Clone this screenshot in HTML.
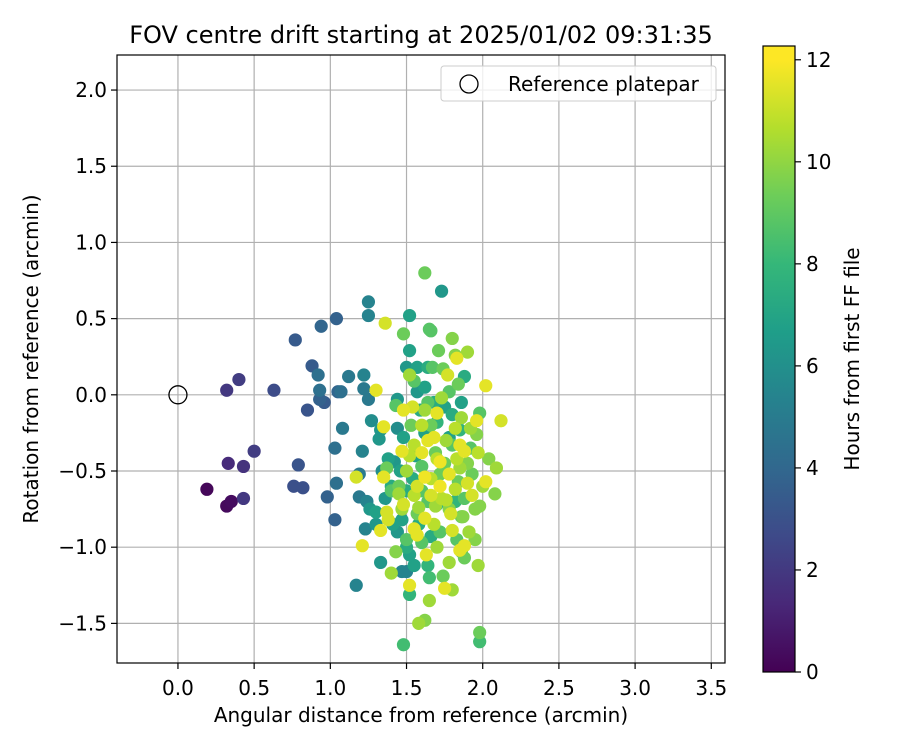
<!DOCTYPE html>
<html><head><meta charset="utf-8"><style>
body{margin:0;background:#fff;}
svg text{font-family:"DejaVu Sans","Liberation Sans",sans-serif;fill:#000;}
</style></head><body>
<svg id="chart" width="900" height="750" xmlns="http://www.w3.org/2000/svg">
<rect width="900" height="750" fill="#fff"/>
<g id="grid"></g>
<g id="points"></g>
<rect x="117" y="55" width="608" height="608" fill="none" stroke="#000" stroke-width="1.2"/>
<g id="ticks"></g>
<text x="421" y="43" font-size="24" text-anchor="middle">FOV centre drift starting at 2025/01/02 09:31:35</text>
<text x="421" y="722" font-size="20" text-anchor="middle">Angular distance from reference (arcmin)</text>
<text transform="translate(38,359) rotate(-90)" font-size="20" text-anchor="middle">Rotation from reference (arcmin)</text>
<g>
<rect x="441" y="66" width="275" height="35" rx="3" fill="#fff" fill-opacity="0.8" stroke="#ccc"/>
<circle cx="469" cy="84" r="9" fill="none" stroke="#000" stroke-width="1.3"/>
<text x="508" y="91" font-size="20">Reference platepar</text>
</g>
<circle id="refpt" r="9" fill="none" stroke="#000" stroke-width="1.3"/>
<defs><linearGradient id="vir" x1="0" y1="1" x2="0" y2="0"></linearGradient></defs>
<rect x="763" y="46" width="32" height="626" fill="url(#vir)" stroke="#000" stroke-width="1.2"/>
<g id="cbticks"></g>
<text transform="translate(859,359) rotate(-90)" font-size="20" text-anchor="middle">Hours from first FF file</text>
</svg>
<script>
const xTicks=[0.0,0.5,1.0,1.5,2.0,2.5,3.0,3.5];
const yTicks=[-1.5,-1.0,-0.5,0.0,0.5,1.0,1.5,2.0];
const cbTicks=[0,2,4,6,8,10,12];
const refX=0,refY=0;
const pts=[
[0.19,-0.62,0.2],[0.32,-0.73,0.3],[0.35,-0.70,0.4],[0.33,-0.45,1.5],[0.43,-0.47,1.8],[0.43,-0.68,2],[0.32,0.03,2],[0.40,0.10,2.2],[0.50,-0.37,2.2],[0.63,0.03,2.8],[0.76,-0.60,3],[0.79,-0.46,3.2],[0.82,-0.61,3],[0.77,0.36,3.5],[0.85,-0.10,3.2],[0.88,0.19,3.5],[0.93,-0.03,3.8],[0.96,-0.05,3.5],[0.98,-0.67,3.8],[1.03,-0.82,3.8],[0.94,0.45,4],[1.04,0.50,3.8],[0.92,0.13,4.5],[0.93,0.03,4.5],[1.05,0.02,4],[1.07,0.02,4.5],[1.03,-0.35,4.5],[1.04,-0.58,4.5],[1.08,-0.22,5],[1.12,0.12,5],[1.17,-1.25,5.5],[1.19,-0.52,5],[1.19,-0.67,5],[1.21,-0.37,5.5],[1.22,0.13,5.5],[1.22,0.04,5],[1.23,-0.88,5.5],[1.25,0.61,5.5],[1.25,0.52,5.5],[1.24,-0.70,5.5],[1.27,-0.17,6],[1.25,-0.03,5],[1.33,-1.10,6.5],[1.33,-0.23,6.5],[1.30,-0.85,6.5],[1.32,-0.29,6.5],
[1.52,0.52,7],[1.73,0.68,6.5],[1.52,0.29,7],[1.50,0.18,6.5],[1.57,0.18,7],[1.57,0.02,6.5],[1.62,0.05,7],[1.64,0.18,7.5],[1.44,-0.22,6],[1.44,-0.03,6.5],[1.48,-0.28,7],[1.38,-0.42,7],[1.40,-0.60,7.5],[1.42,-0.44,6.5],[1.46,-0.50,7],[1.50,-0.63,7.5],[1.47,-0.82,7],[1.50,-1.00,7.5],[1.52,-1.05,7],[1.50,-1.16,5.5],[1.55,-1.12,7],[1.52,-1.31,8],[1.56,-0.40,7],[1.59,-0.10,7.5],[1.62,-0.25,7],[1.68,-0.05,7.5],[1.70,-0.18,8],[1.75,-0.08,7],[1.80,-0.13,7.5],[1.86,-0.05,7],[1.88,0.12,7.5],[1.85,-0.23,8],[1.58,-0.85,7.5],[1.64,-1.12,8],[1.66,-0.93,7.5],[1.70,-0.72,8],[1.82,-0.70,8],[1.86,-1.03,7.5],[1.78,-0.28,7],[1.54,-0.55,7.5],[1.44,-0.90,6.5],[1.41,-0.85,7],[1.34,-0.50,6],[1.36,-0.68,6.5],[1.26,-0.75,6.5],[1.30,-0.77,7],[1.47,-1.16,5.5],[1.66,0.42,9],
[1.62,0.80,9.5],[1.65,0.43,9],[1.71,0.29,9.5],[1.80,0.37,10],[1.82,0.26,10],[1.55,0.09,9],[1.64,-0.05,9],[1.74,0.17,9.5],[1.78,0.02,9],[1.84,0.07,9.5],[1.60,-0.47,9],[1.66,-0.20,9.5],[1.72,-0.90,9],[1.75,-0.45,9.5],[1.78,-0.75,10],[1.84,-0.57,9.5],[1.88,-0.68,9],[1.90,-0.45,10],[1.93,-0.52,9.5],[1.96,-0.26,10],[1.98,-0.12,9],[1.98,-1.56,9.5],[1.98,-1.62,8.5],[1.88,-1.07,9.5],[1.83,-0.95,9],[1.74,-1.19,9.5],[1.65,-1.20,8.5],[1.60,-0.97,9],[1.57,-0.78,9.5],[1.50,-0.95,9],[1.45,-0.60,9.5],[1.40,-0.63,9],[1.37,-0.48,9.5],[1.43,-0.07,9],[1.48,0.40,9.5],[1.60,-0.63,9],[1.69,-0.38,9.5],[1.80,-0.33,9],[1.86,-0.80,9.5],[1.92,-0.35,9],[1.72,-0.52,9.5],[1.64,-0.70,9],[1.53,-0.20,9.5],[1.48,-1.64,8.5],[1.67,0.18,9],
[1.40,-1.17,10.5],[1.45,-0.65,10.5],[1.43,-1.03,10],[1.52,0.13,10.5],[1.55,-0.66,11],[1.58,-0.74,10.5],[1.62,-1.48,10],[1.58,-1.50,10.5],[1.65,-1.35,10.5],[1.70,-0.42,11],[1.73,-0.02,10.5],[1.76,-0.69,11],[1.80,-1.28,10.5],[1.82,-0.22,11],[1.85,-0.48,10.5],[1.87,-0.80,10],[1.90,0.28,10.5],[1.92,-0.22,10.5],[1.95,-0.75,10],[1.97,-0.38,11],[1.98,-0.73,10],[2.00,-0.60,10.5],[2.04,-0.42,10],[2.09,-0.48,10.5],[2.08,-0.65,10],[1.97,-1.12,10.5],[1.78,-1.10,10.5],[1.68,-0.85,11],[1.60,-0.20,11],[1.62,-0.10,10.5],[1.73,-0.68,11],[1.76,-0.30,10.5],[1.55,-0.33,11],[1.50,-0.50,10.5],[1.66,-0.55,11],[1.69,-0.73,10.5],[1.82,-0.62,11],[1.86,-0.15,10.5],[1.91,-0.90,10.5],[1.95,-0.95,10],[1.52,-0.40,11],[1.47,-0.75,10.5],[1.83,-0.42,11],[1.70,-1.00,10.5],
[1.30,0.03,11.8],[1.36,0.47,11.5],[1.35,-0.21,11.8],[1.37,-0.77,11.5],[1.35,-0.54,11.8],[1.21,-0.99,11.8],[1.17,-0.54,11.5],[1.33,-0.89,11.8],[1.38,-0.82,11.5],[1.47,-0.37,11.8],[1.48,-0.10,11.8],[1.54,-0.08,11.5],[1.55,-0.88,11.8],[1.52,-1.25,11.8],[1.57,-0.60,11.5],[1.60,-0.38,11.8],[1.62,-0.54,12],[1.63,-1.05,11.8],[1.66,-0.66,11.5],[1.68,-0.28,11.8],[1.70,-0.12,11.8],[1.72,-0.44,12],[1.75,-1.27,11.8],[1.77,0.13,11.5],[1.78,-0.52,11.8],[1.80,-0.89,11.5],[1.83,0.24,11.8],[1.85,-0.33,11.8],[1.88,-0.99,11.8],[1.90,-0.58,11.5],[1.96,-0.17,11.8],[2.02,0.06,11.8],[2.02,-0.57,11.8],[2.12,-0.17,11.5],[1.88,-0.37,11.8],[1.62,-0.81,11.8],[1.48,-0.72,11.5],[1.57,-0.92,11.8],[1.85,-1.02,11.8],[1.72,-0.60,12],[1.64,-0.30,11.8],[1.79,-0.78,11.5],[1.93,-0.66,11.5]
];
const NS='http://www.w3.org/2000/svg';
const L=117,R=725,T=55,B=663,xmin=-0.40,xmax=3.59,ymin=-1.76,ymax=2.23;
const cbTop=46,cbBot=672,cmax=12.27;
const X=v=>L+(v-xmin)/(xmax-xmin)*(R-L);
const Y=v=>B-(v-ymin)/(ymax-ymin)*(B-T);
const CB=v=>cbBot-v/cmax*(cbBot-cbTop);
const vir=[[68,1,84],[72,40,120],[62,74,137],[49,104,142],[38,130,142],[31,158,137],[53,183,121],[109,205,89],[180,222,44],[253,231,37]];
function col(h){let t=Math.max(0,Math.min(1,h/cmax))*(vir.length-1);let i=Math.min(Math.floor(t),vir.length-2),f=t-i;const a=vir[i],b=vir[i+1];return 'rgb('+a.map((c,k)=>Math.round(c+(b[k]-c)*f)).join(',')+')';}
function mk(tag,attrs,parent){const e=document.createElementNS(NS,tag);for(const k in attrs)e.setAttribute(k,attrs[k]);parent.appendChild(e);return e;}
const grid=document.getElementById('grid'),ticks=document.getElementById('ticks');
xTicks.forEach(v=>{const x=X(v);
 let g=mk('line',{x1:x,x2:x,y1:T,y2:B,stroke:'#b0b0b0','stroke-width':1.2},grid);
 
 
 mk('line',{x1:x,x2:x,y1:B,y2:B+6,stroke:'#000','stroke-width':1.2},ticks);
 let t=mk('text',{x:x,y:B+32,'font-size':20,'text-anchor':'middle'},ticks);t.textContent=v.toFixed(1);
 
 });
yTicks.forEach(v=>{const y=Y(v);
 let g=mk('line',{x1:L,x2:R,y1:y,y2:y,stroke:'#b0b0b0','stroke-width':1.2},grid);
 
 
 mk('line',{x1:L-6,x2:L,y1:y,y2:y,stroke:'#000','stroke-width':1.2},ticks);
 let t=mk('text',{x:L-10,y:y+7,'font-size':20,'text-anchor':'end'},ticks);t.textContent=(v<0?'\u2212':'')+Math.abs(v).toFixed(1);
 
 });
const pg=document.getElementById('points');
pts.slice().sort((a,b)=>a[2]-b[2]).forEach(p=>{
 const c=mk('circle',{cx:X(p[0]),cy:Y(p[1]),r:6.6,fill:col(p[2])},pg);
 
 });
const rp=document.getElementById('refpt');rp.setAttribute('cx',X(refX));rp.setAttribute('cy',Y(refY));
const gr=document.getElementById('vir');
vir.forEach((c,i)=>mk('stop',{offset:(i/(vir.length-1)*12/cmax),'stop-color':'rgb('+c.join(',')+')'},gr));
mk('stop',{offset:1,'stop-color':col(cmax)},gr);
const cbt=document.getElementById('cbticks');
cbTicks.forEach(v=>{const y=CB(v);
 mk('line',{x1:795,x2:801,y1:y,y2:y,stroke:'#000','stroke-width':1.2},cbt);
 let t=mk('text',{x:806,y:y+7,'font-size':20},cbt);t.textContent=v;
 
 });
</script>
</body></html>
